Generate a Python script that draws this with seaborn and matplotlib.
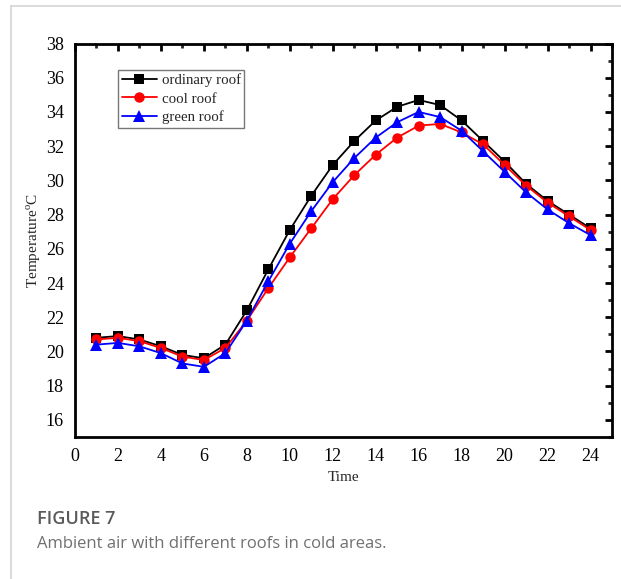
import numpy as np
import pandas as pd
import matplotlib
matplotlib.use("Agg")
import matplotlib.pyplot as plt
import seaborn as sns
from matplotlib.ticker import MultipleLocator
from matplotlib.lines import Line2D

hours = list(range(1, 25))
ordinary_roof = [20.8, 20.9, 20.7, 20.3, 19.8, 19.6, 20.4, 22.4, 24.8, 27.1, 29.1, 30.9,
                 32.3, 33.5, 34.3, 34.7, 34.4, 33.5, 32.3, 31.1, 29.8, 28.8, 28.0, 27.2]
cool_roof = [20.7, 20.8, 20.6, 20.2, 19.7, 19.5, 20.2, 21.8, 23.7, 25.5, 27.2, 28.9,
             30.3, 31.5, 32.5, 33.2, 33.3, 32.8, 32.1, 30.9, 29.7, 28.7, 27.9, 27.1]
green_roof = [20.4, 20.5, 20.3, 19.9, 19.3, 19.1, 19.9, 21.8, 24.1, 26.3, 28.2, 29.9,
              31.3, 32.5, 33.4, 34.0, 33.7, 32.9, 31.7, 30.5, 29.3, 28.3, 27.5, 26.8]
series_names = ["ordinary roof", "cool roof", "green roof"]
x_ticks = list(range(0, 25, 2))
y_ticks = list(range(16, 39, 2))

df = pd.concat([
    pd.DataFrame({"Time": hours, "Temp": vals, "Roof": name})
    for name, vals in zip(series_names, [ordinary_roof, cool_roof, green_roof])
])

sns.set_style("white")
plt.rcParams["font.family"] = ["Liberation Serif", "DejaVu Serif"]
plt.rcParams["mathtext.fontset"] = "custom"
plt.rcParams["mathtext.rm"] = "Liberation Serif"

fig = plt.figure(figsize=(6.21, 5.79), dpi=100)
ax = fig.add_axes([75/621, 1-437/579, (612-75)/621, (437-43.5)/579])

palette = {"ordinary roof": "#000000", "cool roof": "#ff0000", "green roof": "#0000ff"}
markers = {"ordinary roof": "s", "cool roof": "o", "green roof": "^"}
sizes_ms = {"ordinary roof": 6.5, "cool roof": 7.5, "green roof": 8}

for name in series_names:
    sub = df[df["Roof"] == name]
    sns.lineplot(data=sub, x="Time", y="Temp", ax=ax, color=palette[name],
                 marker=markers[name], markersize=sizes_ms[name], markeredgewidth=0,
                 linewidth=1.3, label=name, legend=False)

ax.set_xlim(0, 25)
ax.set_ylim(15, 38)
ax.set_xticks(x_ticks)
ax.set_yticks(y_ticks)
ax.xaxis.set_minor_locator(MultipleLocator(1))
ax.yaxis.set_minor_locator(MultipleLocator(1))
for s in ax.spines.values():
    s.set_linewidth(2.0)
    s.set_color("black")
ax.tick_params(axis="both", which="major", direction="out", length=5, width=2,
               labelsize=13, colors="black", pad=3)
ax.tick_params(axis="both", which="minor", direction="out", length=3, width=2)
ax.tick_params(axis="both", which="both", top=True, right=True)
# top/right ticks pointing inward
for t in ax.xaxis.get_major_ticks() + ax.xaxis.get_minor_ticks():
    t.tick2line.set_marker(3)
for t in ax.yaxis.get_major_ticks() + ax.yaxis.get_minor_ticks():
    t.tick2line.set_marker(0)
ax.set_xlabel("Time", fontsize=11, labelpad=4)
ax.set_ylabel("Temperature$^{\\mathrm{o}}$C", fontsize=11, labelpad=2)

handles = []
for name in series_names:
    handles.append(Line2D([], [], color=palette[name], marker=markers[name],
                          markersize=sizes_ms[name], markeredgewidth=0, linewidth=1.3))
leg = ax.legend(handles, series_names, loc="upper left",
                bbox_to_anchor=((118-75)/537, (437-70)/393.5),
                fontsize=10.7, frameon=True, fancybox=False, handlelength=2.35,
                handletextpad=0.33, borderpad=0.25, labelspacing=0.32, borderaxespad=0)
leg.get_frame().set_edgecolor("#555555")
leg.get_frame().set_linewidth(1.0)

# card border lines
fig.add_artist(Line2D([11/621, 11/621], [0, 1-6/579], color="#d4d4d4", lw=1.2))
fig.add_artist(Line2D([11/621, 1], [1-6/579, 1-6/579], color="#d4d4d4", lw=1.2))

fig.text(37/621, 1-519/579, "FIGURE 7", fontsize=13, color="#5a5a5a",
         family=["Open Sans", "DejaVu Sans"], weight="semibold", va="center")
fig.text(37/621, 1-544/579, "Ambient air with different roofs in cold areas.",
         fontsize=12, color="#707070", family=["Open Sans", "DejaVu Sans"], va="center")

fig.savefig("out.png", dpi=100)
